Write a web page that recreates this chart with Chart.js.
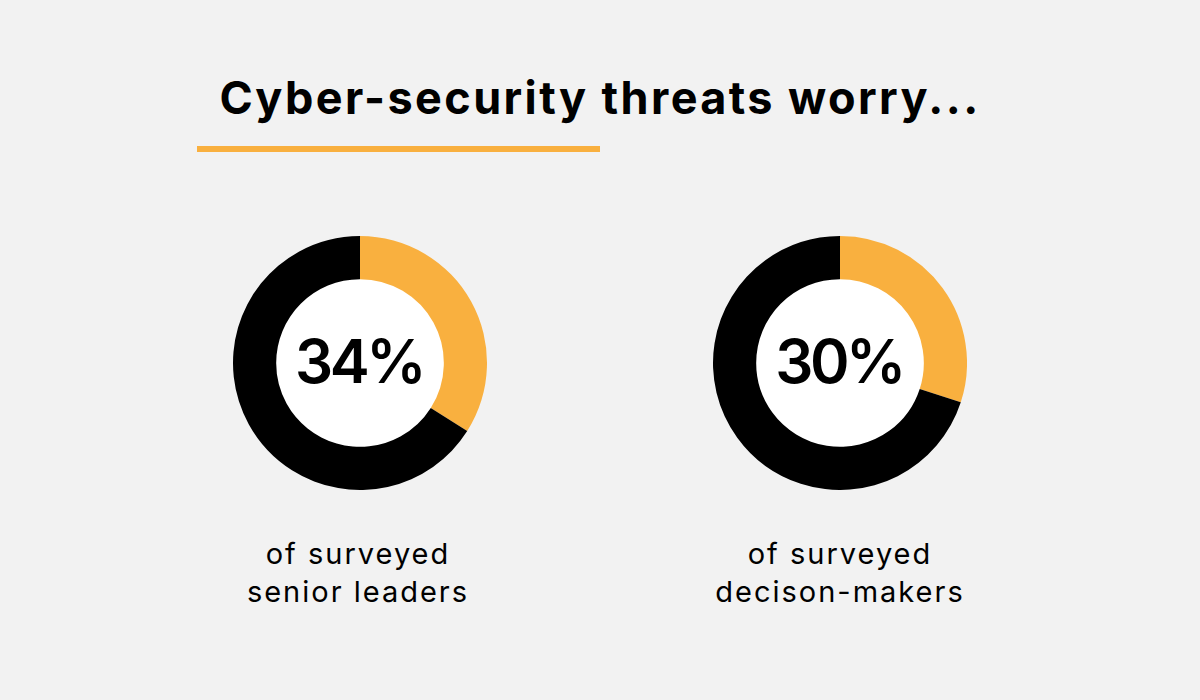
<!DOCTYPE html>
<html>
<head>
<meta charset="utf-8">
<script src="https://cdn.jsdelivr.net/npm/chart.js@4.4.1/dist/chart.umd.min.js"></script>
<style>
  html, body { margin: 0; padding: 0; }
  body { width: 1200px; height: 700px; background: #f2f2f2; position: relative; overflow: hidden; font-family: Inter, "Noto Sans", sans-serif; color: #000; }
  #title { position: absolute; left: 0; width: 1200px; top: 70px; text-align: center; font-size: 45px; font-weight: 700; letter-spacing: 2.4px; }
  #underline { position: absolute; left: 197px; top: 146px; width: 403px; height: 6px; background: #f9b03f; }
  .donut { position: absolute; width: 254px; height: 254px; top: 236px; }
  .caption { position: absolute; width: 400px; top: 535px; text-align: center; font-size: 29px; line-height: 38px; font-weight: 400; letter-spacing: 2px; }
</style>
</head>
<body>
<div id="title">Cyber-security threats worry...</div>
<div id="underline"></div>
<div class="donut" style="left:233px"><canvas id="c1"></canvas></div>
<div class="donut" style="left:713px"><canvas id="c2"></canvas></div>
<div class="caption" style="left:158px">of surveyed<br>senior leaders</div>
<div class="caption" style="left:640px">of surveyed<br>decison-makers</div>
<script>
// Данные
const segments = ['Worried', 'Other'];
const seniorLeaders = [34, 66];
const decisionMakers = [30, 70];
const colors = ['#f9b03f', '#000000'];

// Белый круг в центре и подпись с процентом
const centerPlugin = {
    id: 'centerText',
    beforeDatasetsDraw(chart) {
        const arc = chart.getDatasetMeta(0).data[0];
        const ctx = chart.ctx;
        ctx.save();
        ctx.beginPath();
        ctx.arc(arc.x, arc.y, arc.innerRadius + 1, 0, Math.PI * 2);
        ctx.fillStyle = '#ffffff';
        ctx.fill();
        ctx.restore();
    },
    afterDatasetsDraw(chart) {
        const arc = chart.getDatasetMeta(0).data[0];
        const ctx = chart.ctx;
        ctx.save();
        ctx.font = '600 60px Inter, "Noto Sans", sans-serif';
        ctx.letterSpacing = '-3.5px';
        ctx.fillStyle = '#000';
        ctx.textAlign = 'center';
        ctx.textBaseline = 'middle';
        ctx.fillText(chart.data.datasets[0].data[0] + '%', arc.x - 1, arc.y + 2);
        ctx.restore();
    }
};

function makeDonut(canvasId, values) {
    return new Chart(document.getElementById(canvasId), {
        type: 'doughnut',
        data: {
            labels: segments,
            datasets: [{ data: values, backgroundColor: colors, borderWidth: 0 }]
        },
        options: {
            responsive: true,
            maintainAspectRatio: false,
            animation: false,
            cutout: '66%',
            plugins: { legend: { display: false }, tooltip: { enabled: false } },
            layout: { padding: 0 }
        },
        plugins: [centerPlugin]
    });
}

makeDonut('c1', seniorLeaders);
makeDonut('c2', decisionMakers);
</script>
</body>
</html>
